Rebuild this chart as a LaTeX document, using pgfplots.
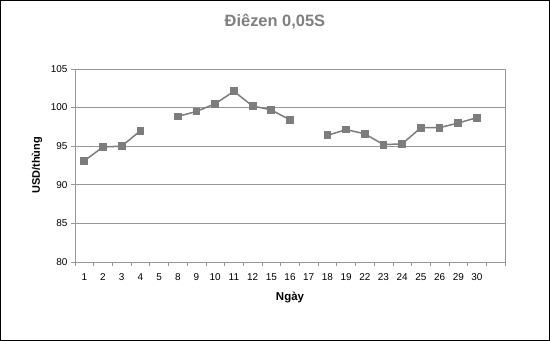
\documentclass[border=0pt]{standalone}
\usepackage{pgfplots}
\pgfplotsset{compat=1.18}
\usepackage{fontspec}
\setmainfont{Liberation Sans}
\definecolor{serie}{RGB}{125,125,125}
\definecolor{gridc}{RGB}{150,150,150}
\definecolor{titlec}{RGB}{128,128,128}
\begin{document}
\begin{tikzpicture}
\draw[black,line width=0.9bp,fill=white] (-74.5bp,-78.5bp) rectangle (474.5bp,261.5bp);
\begin{axis}[
  at={(0,0)}, anchor=south west,
  scale only axis, width=430bp, height=193bp,
  xmin=-0.5, xmax=22.5, ymin=80, ymax=105,
  ytick={80,85,90,95,100,105},
  xtick={0,...,22},
  xticklabels={1,2,3,4,5,8,9,10,11,12,15,16,17,18,19,22,23,24,25,26,29,30,{}},
  minor xtick={-0.5,0.5,...,22.5},
  major x tick style={draw=none},
  minor tick length=4bp, major tick length=4bp,
  tick align=outside, xtick pos=bottom, ytick pos=left,
  tick style={gridc, line width=0.6bp},
  ymajorgrids, grid style={gridc, line width=0.6bp},
  axis line style={gridc, line width=0.6bp},
  /pgf/number format/assume math mode=true,
  tick label style={font=\fontsize{10}{12}\selectfont, black},
  xticklabel style={yshift=-4bp},
  unbounded coords=jump,
  title={\bfseries Điêzen 0,05S},
  title style={font=\fontsize{16.5}{19}\selectfont\bfseries, text=titlec, at={(axis description cs:0.465,1)}, anchor=center, yshift=41bp},
  xlabel={\bfseries Ngày},
  xlabel style={font=\fontsize{11.5}{14}\selectfont, at={(axis description cs:0.5,0)}, anchor=center, yshift=-36bp},
  ylabel={\bfseries USD/thùng},
  ylabel style={font=\fontsize{11}{13}\selectfont, at={(axis description cs:-0.088,0.5)}, anchor=center},
]
\addplot[serie, line width=1.5bp, mark=square*, mark size=3.4bp, mark options={fill=serie, draw=serie, line width=0pt}] coordinates {
(0,93.1) (1,94.9) (2,95.0) (3,97.0) (4,nan) (5,98.85) (6,99.5) (7,100.5) (8,102.1) (9,100.2) (10,99.7) (11,98.4) (12,nan) (13,96.4) (14,97.15) (15,96.6) (16,95.2) (17,95.3) (18,97.4) (19,97.4) (20,98.0) (21,98.7)
};
\end{axis}
\end{tikzpicture}
\end{document}
